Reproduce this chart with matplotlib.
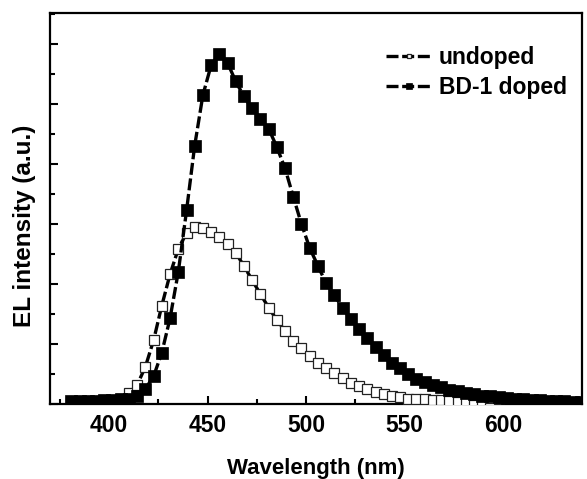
import matplotlib
matplotlib.use("Agg")
import matplotlib.pyplot as plt
from matplotlib.ticker import MultipleLocator

plt.rcParams['font.family'] = ['Liberation Sans', 'DejaVu Sans']
plt.rcParams['font.weight'] = 'bold'

# wavelength grid (nm)
wavelength = [380.9, 385.0, 389.2, 393.4, 397.5, 401.7, 405.9, 410.1, 414.2,
              418.4, 422.6, 426.7, 430.9, 435.1, 439.3, 443.4, 447.6, 451.8,
              455.9, 460.1, 464.3, 468.4, 472.6, 476.8, 481.0, 485.1, 489.3,
              493.5, 497.6, 501.8, 506.0, 510.1, 514.3, 518.5, 522.7, 526.8,
              531.0, 535.2, 539.3, 543.5, 547.7, 551.8, 556.0, 560.2, 564.4,
              568.5, 572.7, 576.9, 581.0, 585.2, 589.4, 593.5, 597.7, 601.9,
              606.1, 610.2, 614.4, 618.6, 622.7, 626.9, 631.1, 635.2, 639.4]

# BD-1 doped EL intensity (a.u.)
doped = [0.10, 0.10, 0.10, 0.11, 0.12, 0.13, 0.15, 0.18, 0.25,
         0.50, 0.93, 1.70, 2.85, 4.40, 6.45, 8.60, 10.30, 11.30,
         11.67, 11.37, 10.75, 10.25, 9.85, 9.50, 9.17, 8.57, 7.85,
         6.90, 6.00, 5.20, 4.60, 4.03, 3.63, 3.20, 2.83, 2.50,
         2.20, 1.90, 1.63, 1.37, 1.20, 1.00, 0.83, 0.72, 0.63,
         0.55, 0.48, 0.42, 0.37, 0.32, 0.28, 0.25, 0.22, 0.19,
         0.17, 0.15, 0.13, 0.12, 0.11, 0.10, 0.09, 0.08, 0.07]

# undoped EL intensity (a.u.), shorter series
undoped = [0.08, 0.08, 0.08, 0.08, 0.08, 0.10, 0.18, 0.37, 0.63,
           1.24, 2.13, 3.27, 4.32, 5.17, 5.70, 5.90, 5.86, 5.74,
           5.56, 5.33, 5.04, 4.60, 4.13, 3.66, 3.21, 2.80, 2.44,
           2.11, 1.85, 1.60, 1.37, 1.20, 1.03, 0.87, 0.70, 0.60,
           0.50, 0.40, 0.33, 0.27, 0.22, 0.18, 0.17, 0.16, 0.14,
           0.12, 0.09, 0.06, 0.02, -0.03, -0.08, -0.12, -0.16]

fig = plt.figure(figsize=(5.87, 4.79), dpi=100)
ax = fig.add_axes([0.0852, 0.1566, 0.9063, 0.8173])

ax.plot(wavelength[:len(undoped)], undoped, color='black', lw=2.4, dashes=(3.6, 1.1),
        marker='s', ms=7.7, mfc='white', mec='#222222', mew=0.9,
        label='undoped', zorder=3)
ax.plot(wavelength, doped, color='black', lw=2.4, dashes=(3.6, 1.1),
        marker='s', ms=8.2, mfc='black', mec='black', mew=0.5,
        label='BD-1 doped', zorder=4)

ax.set_xlim(370, 640)
ax.set_ylim(0, 13.05)
ax.xaxis.set_major_locator(MultipleLocator(50))
ax.xaxis.set_minor_locator(MultipleLocator(25))
ax.yaxis.set_major_locator(MultipleLocator(2))
ax.yaxis.set_minor_locator(MultipleLocator(1))
ax.tick_params(which='both', direction='in', width=1.5, labelsize=16.5, pad=7)
ax.tick_params(which='major', length=6)
ax.tick_params(which='minor', length=3.5)
ax.tick_params(axis='y', which='both', labelleft=False)
for s in ax.spines.values():
    s.set_linewidth(1.6)

ax.set_xlabel('Wavelength (nm)', fontsize=16, fontweight='bold', labelpad=15)
ax.set_ylabel('EL intensity (a.u.)', fontsize=17.5, fontweight='bold')
ax.yaxis.set_label_coords(-0.027, 0.455)

ax.legend(loc='upper left', bbox_to_anchor=(386/587, 1 - 46/479),
          bbox_transform=fig.transFigure, frameon=False, fontsize=16.5,
          borderpad=0, borderaxespad=0, handlelength=2.0, handletextpad=0.3,
          labelspacing=0.3, markerscale=0.45)

fig.savefig('out.png', dpi=100)
